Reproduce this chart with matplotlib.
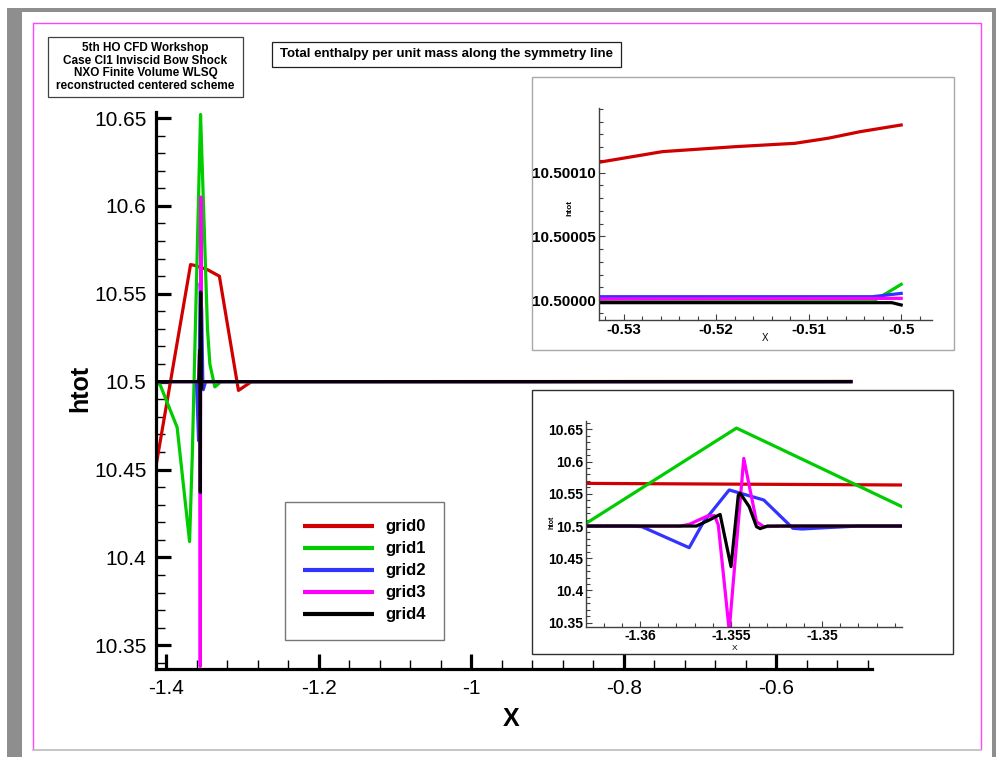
import matplotlib
matplotlib.use("Agg")
import matplotlib.pyplot as plt
from matplotlib.patches import Rectangle
from matplotlib.lines import Line2D
from matplotlib.ticker import MultipleLocator, FuncFormatter

plt.rcParams['font.family'] = ['Liberation Sans', 'DejaVu Sans']
plt.rcParams['axes.unicode_minus'] = False

# ---- data (x, htot) ----
x_grid0 = [-1.4131, -1.3678, -1.3630, -1.3456, -1.3300, -1.3050, -1.2880,
           -0.5327, -0.5258, -0.5179, -0.5115, -0.5079, -0.5044, -0.5000]
h_grid0 = [10.452, 10.5666, 10.5662, 10.5637, 10.5600, 10.4950, 10.5000,
           10.5001081, 10.5001165, 10.5001204, 10.5001230, 10.5001270, 10.5001322, 10.5001374]

x_grid1 = [-1.4131, -1.4075, -1.3854, -1.3691, -1.3656, -1.3547, -1.3529,
           -1.3456, -1.3425, -1.3360, -1.3280, -0.5327, -0.5031, -0.5000]
h_grid1 = [10.500, 10.498, 10.474, 10.409, 10.457, 10.652, 10.628,
           10.530, 10.510, 10.497, 10.500, 10.4999987, 10.4999987, 10.5000123]

x_grid2 = [-1.4131, -1.3605, -1.3599, -1.3573, -1.3565, -1.3551, -1.3532, -1.3516,
           -1.3511, -1.3501, -1.3480, -0.5327, -0.5031, -0.5000]
h_grid2 = [10.500, 10.500, 10.499, 10.4664, 10.5068, 10.556, 10.5404, 10.4965,
           10.4954, 10.497, 10.500, 10.5000026, 10.5000026, 10.5000052]

x_grid3 = [-1.4131, -1.3578, -1.3573, -1.3563, -1.3559, -1.3557, -1.3551, -1.3543,
           -1.3536, -1.3532, -1.3521, -0.5327, -0.5000]
h_grid3 = [10.500, 10.500, 10.5026, 10.5155, 10.5161, 10.5016, 10.338, 10.605,
           10.5067, 10.499, 10.500, 10.5000008, 10.5000013]

x_grid4 = [-1.4131, -1.3569, -1.3562, -1.3556, -1.3550, -1.3546, -1.3545,
           -1.3540, -1.3536, -1.3534, -1.3530, -0.5327, -0.5010, -0.5000]
h_grid4 = [10.500, 10.500, 10.5093, 10.518, 10.437, 10.548, 10.551,
           10.530, 10.499, 10.496, 10.500, 10.4999979, 10.4999979, 10.4999961]

labels = ['grid0', 'grid1', 'grid2', 'grid3', 'grid4']
colors = ['#d00000', '#00cc00', '#3333ff', '#ff00ff', '#000000']
series = [(x_grid0, h_grid0), (x_grid1, h_grid1), (x_grid2, h_grid2),
          (x_grid3, h_grid3), (x_grid4, h_grid4)]

main_xticks = [-1.4, -1.2, -1.0, -0.8, -0.6]
main_yticks = [10.35, 10.4, 10.45, 10.5, 10.55, 10.6, 10.65]
far_xticks = [-0.53, -0.52, -0.51, -0.5]
far_yticks = [10.5, 10.50005, 10.5001]
shock_xticks = [-1.36, -1.355, -1.35]
shock_yticks = [10.35, 10.4, 10.45, 10.5, 10.55, 10.6, 10.65]

W, H = 996, 757
fig = plt.figure(figsize=(W / 100, H / 100), dpi=100, facecolor='white')


def box(x0, y0, x1, y1):
    # pixel box (top-left origin) -> figure fraction rect
    return [x0 / W, 1 - y1 / H, (x1 - x0) / W, (y1 - y0) / H]


def rect(x0, y0, x1, y1, **kw):
    l, b, w, h = box(x0, y0, x1, y1)
    p = Rectangle((l, b), w, h, transform=fig.transFigure, **kw)
    fig.patches.append(p)
    return p


def fline(xs, ys, **kw):
    fig.lines.append(Line2D([x / W for x in xs], [1 - y / H for y in ys],
                            transform=fig.transFigure, **kw))


# page frame
gray = '#8e8e8e'
rect(7, 8, 22, 757, facecolor=gray, edgecolor='none', zorder=-1)
rect(7, 8, 996, 12, facecolor=gray, edgecolor='none', zorder=-1)
rect(992, 8, 996, 757, facecolor=gray, edgecolor='none', zorder=-1)
fline([33, 33, 981, 981], [749, 23, 23, 749], color='#ff44ff', lw=1.0, zorder=-1)
fline([33, 981], [749.5, 749.5], color='#bbbbbb', lw=1.2, zorder=-1)

# header boxes
rect(48, 37, 243, 97, facecolor='white', edgecolor='#404040', lw=0.9, zorder=2)
fig.text(145.5 / W, 1 - 67 / H,
         '5th HO CFD Workshop\nCase CI1 Inviscid Bow Shock\n'
         'NXO Finite Volume WLSQ\nreconstructed centered scheme',
         ha='center', va='center', fontsize=8.5, fontweight='bold',
         linespacing=1.06, zorder=3)
rect(272, 42, 621, 67, facecolor='white', edgecolor='#202020', lw=0.9, zorder=2)
fig.text(446.5 / W, 1 - 54.5 / H,
         'Total enthalpy per unit mass along the symmetry line',
         ha='center', va='center', fontsize=9.5, fontweight='bold', zorder=3)

gfmt = FuncFormatter(lambda v, p: '%g' % round(v, 6))

# ---- main axes ----
ax = fig.add_axes(box(156, 111.5, 872, 669), zorder=1)
ax.set_facecolor('none')
for (xs, hs), c, lab in zip(series, colors, labels):
    ax.plot(xs, hs, color=c, lw=2.3, label=lab, solid_capstyle='butt')
ax.set_xlim(-1.4131, -0.4745)
ax.set_ylim(10.3365, 10.6537)
ax.set_xticks(main_xticks)
ax.set_yticks(main_yticks)
ax.xaxis.set_major_formatter(gfmt)
ax.yaxis.set_major_formatter(gfmt)
ax.xaxis.set_minor_locator(MultipleLocator(0.04))
ax.yaxis.set_minor_locator(MultipleLocator(0.01))
for s in ['top', 'right']:
    ax.spines[s].set_visible(False)
for s in ['left', 'bottom']:
    ax.spines[s].set_linewidth(2.3)
ax.tick_params(which='major', direction='in', length=10.5, width=2.3,
               labelsize=15, pad=7)
ax.tick_params(which='minor', direction='in', length=6.5, width=1.0)
ax.set_ylabel('htot', fontsize=18, fontweight='bold')
ax.yaxis.set_label_coords(-0.089, 0.504)
ax.set_xlabel('X', fontsize=18, fontweight='bold')
ax.xaxis.set_label_coords(0.496, -0.068)

leg = ax.legend(loc='upper left', bbox_to_anchor=(285 / W, 1 - 502 / H),
                bbox_transform=fig.transFigure, frameon=True, fancybox=False,
                prop={'size': 12, 'weight': 'bold'}, handlelength=4.3,
                handletextpad=0.7, borderpad=1.05, labelspacing=0.42,
                borderaxespad=0)
leg.get_frame().set_edgecolor('#555555')
leg.get_frame().set_linewidth(1.0)
for lh in leg.get_lines():
    lh.set_linewidth(3.0)


def style_inset(a, size):
    a.set_facecolor('none')
    for s in ['top', 'right']:
        a.spines[s].set_visible(False)
    for s in ['left', 'bottom']:
        a.spines[s].set_linewidth(1.0)
        a.spines[s].set_color('#404040')
    a.tick_params(which='major', direction='in', length=4, width=0.8,
                  color='#404040', labelsize=size, pad=2)
    a.tick_params(which='minor', direction='in', length=2.8, width=0.8,
                  color='#404040')
    for t in a.get_xticklabels() + a.get_yticklabels():
        t.set_fontweight('bold')


# ---- inset: far field near x=-0.5 ----
rect(532, 77, 954, 350, facecolor='white', edgecolor='#a8a8a8', lw=1.0, zorder=2)
a1 = fig.add_axes(box(599, 108.3, 931.7, 320), zorder=3)
for (xs, hs), c in zip(series, colors):
    a1.plot(xs, hs, color=c, lw=2.3)
a1.set_xlim(-0.53268, -0.4967)
a1.set_ylim(10.4999843, 10.5001505)
a1.set_xticks(far_xticks)
a1.set_yticks(far_yticks)
a1.xaxis.set_major_formatter(gfmt)
a1.yaxis.set_major_formatter(FuncFormatter(lambda v, p: '%.5f' % v))
a1.xaxis.set_minor_locator(MultipleLocator(0.002))
a1.yaxis.set_minor_locator(MultipleLocator(0.00001))
style_inset(a1, 11)
a1.set_ylabel('htot', fontsize=6, fontweight='bold')
a1.yaxis.set_label_coords(-0.078, 0.529)
a1.set_xlabel('X', fontsize=7)
a1.xaxis.set_label_coords(0.499, -0.061)

# ---- inset: shock region ----
rect(532, 390, 953, 654, facecolor='white', edgecolor='#303030', lw=1.0, zorder=2)
a2 = fig.add_axes(box(586, 421, 901.7, 626.7), zorder=3)
for (xs, hs), c in zip(series, colors):
    a2.plot(xs, hs, color=c, lw=2.3)
a2.set_xlim(-1.36297, -1.34562)
a2.set_ylim(10.3438, 10.663)
a2.set_xticks(shock_xticks)
a2.set_yticks(shock_yticks)
a2.xaxis.set_major_formatter(gfmt)
a2.yaxis.set_major_formatter(gfmt)
a2.xaxis.set_minor_locator(MultipleLocator(0.001))
a2.yaxis.set_minor_locator(MultipleLocator(0.01))
style_inset(a2, 10)
a2.set_ylabel('htot', fontsize=5, fontweight='bold')
a2.yaxis.set_label_coords(-0.098, 0.509)
a2.set_xlabel('X', fontsize=6)
a2.xaxis.set_label_coords(0.472, -0.088)

fig.savefig('out.png', dpi=100, facecolor='white')
